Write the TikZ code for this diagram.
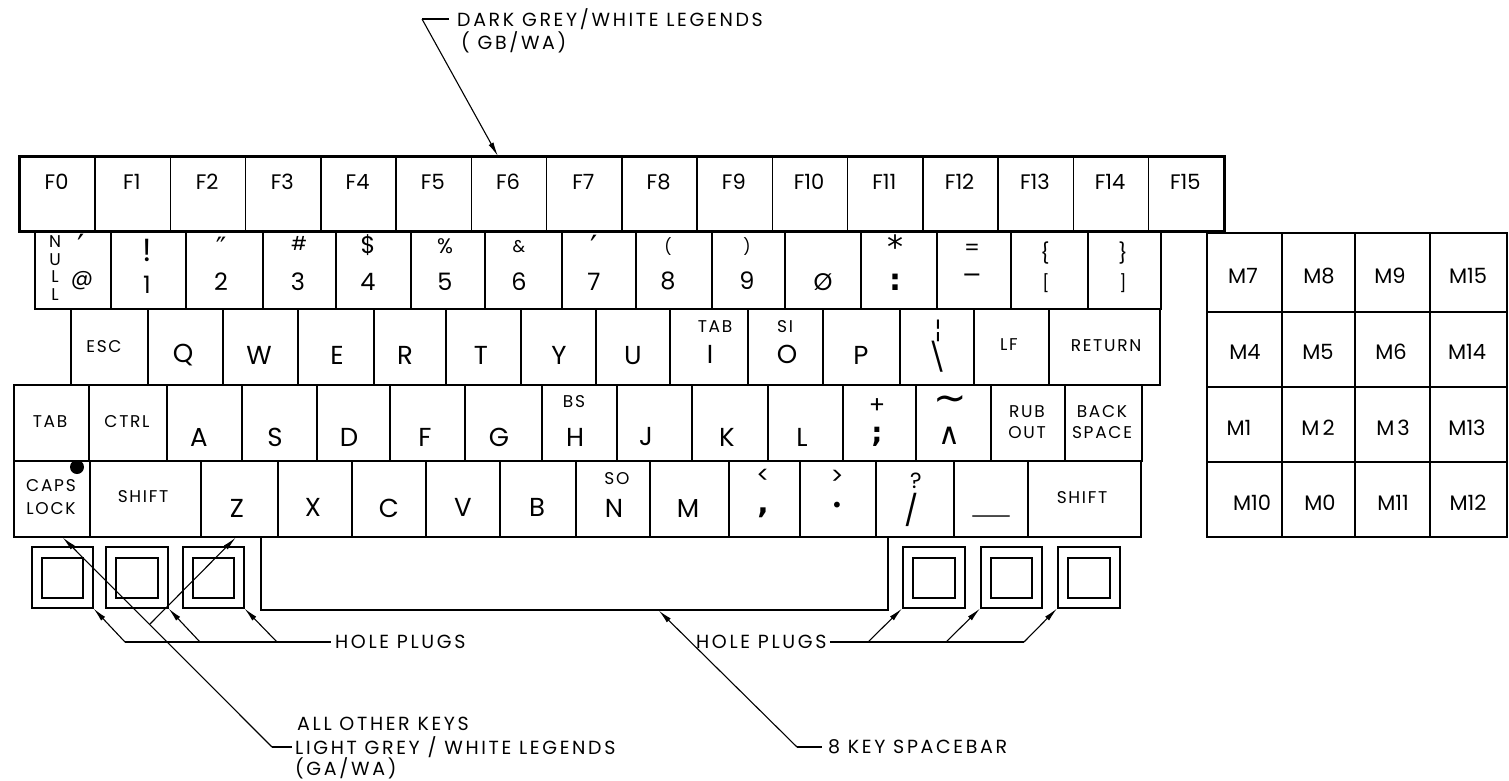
\documentclass[tikz,border=0pt]{standalone}
\usepackage{fontspec}
\setmainfont{Poppins}
\newfontfamily\kfnt{Poppins}
\newfontfamily\smfnt{Poppins}[LetterSpace=10]
\newfontfamily\capfnt{Poppins}[LetterSpace=14]
\newfontfamily\dvsym{DejaVu Sans}
\usetikzlibrary{arrows.meta}
\newcommand\fsz[1]{\fontsize{#1}{#1}\selectfont}
\newcommand\mkkey[5]{\node[keybox, minimum width={(#3-#2)*1pt}, minimum height={(#5-#4)*1pt}] (#1) at (#2,#4) {};}
\tikzset{
  keybox/.style={draw, line width=1.5pt, inner sep=0pt, anchor=north west},
  lt/.style={inner sep=0pt, font=\kfnt\fsz{26}},
  dg/.style={inner sep=0pt, font=\kfnt\fsz{24}},
  sm/.style={inner sep=0pt, font=\smfnt\fsz{17}},
  fk/.style={inner sep=0pt, font=\kfnt\fsz{21}},
  kp/.style={inner sep=0pt, font=\kfnt\fsz{21}},
  sy/.style={inner sep=0pt},
  captxt/.style={inner sep=0pt, anchor=west, font=\capfnt\fsz{19}},
  ldr/.style={line width=1.1pt},
  arr/.style={line width=1.1pt, -{Latex[length=14pt,width=5.5pt]}},
}
\begin{document}
\begin{tikzpicture}[x=1pt,y=-1pt]
\fill[white] (0,0) rectangle (1509,780);
\useasboundingbox (0,0) rectangle (1509,780);

% ---------- function row ----------
\foreach \i in {0,...,15}{
  \pgfmathsetmacro\xa{19+\i*75.25}
  \pgfmathsetmacro\xb{19+(\i+1)*75.25}
  \pgfmathsetmacro\xc{\xa+37.6}
  \mkkey{f\i}{\xa}{\xb}{156}{230}
  \node[fk] (fl\i) at (\xc,182) {F\i};
}
\draw[line width=2.4pt] (f0.north west) rectangle (f15.south east);

% ---------- number row ----------
\foreach \n/\a/\b in {0/34/110,1/110/185,2/185/262,3/262/335,4/335/410,5/410/484,6/484/561,7/561/635,8/635/711,9/711/784,10/784/860,11/860/936,12/936/1010,13/1010/1087,14/1087/1160}
  {\mkkey{n\n}{\a}{\b}{230}{308}}
\node[inner sep=0pt, align=center, font=\smfnt\fontsize{17}{17.5}\selectfont] (lnull) at (55,268) {N\\U\\L\\L};
\node[dg, font=\kfnt\fsz{22}] (lat) at (82,281) {@};
\node[sy, font=\dvsym\fsz{32}] (lgrave) at (81,246) {′};
\node[dg, font=\kfnt\fsz{32}] (lexc) at (147,250) {!};
\node[dg] (l1) at (147,285) {1};
\node[sy, font=\dvsym\fsz{28}] (lquo) at (221,247) {″};
\node[dg] (l2) at (221,282) {2};
\node[dg, font=\kfnt\fsz{19}] (lhash) at (299,243) {\#};
\node[dg] (l3) at (298,282) {3};
\node[dg] (ldol) at (368,245) {\$};
\node[dg, font=\kfnt\fsz{21}] (lpct) at (445,246) {\%};
\node[dg] (l4) at (368,282) {4};
\node[dg] (l5) at (445,282) {5};
\node[dg, font=\kfnt\fsz{17}] (lamp) at (519,247) {\&};
\node[dg] (l6) at (519,282) {6};
\node[sy, font=\dvsym\fsz{32}] (lapo) at (594,247) {′};
\node[dg] (l7) at (594,282) {7};
\node[dg, font=\kfnt\fsz{16}] (llp) at (668,247) {(};
\node[dg] (l8) at (668,281) {8};
\node[dg, font=\kfnt\fsz{16}] (lrp) at (747,247) {)};
\node[dg] (l9) at (747,281) {9};
\node[dg] (l0) at (823,282) {Ø};
\node[sy, font=\dvsym\fsz{32}] (last) at (895,247) {*};
\node[sy, font=\dvsym\bfseries\fsz{30}] (lcol) at (895,282) {:};
\node[dg, font=\kfnt\fsz{22}] (leq) at (972,250) {=};
\node[sy, font=\dvsym\fsz{24}] (lmin) at (972,278) {−};
\node[dg, font=\kfnt\fsz{20}] (llb) at (1045,253) {\{};
\node[dg, font=\kfnt\fsz{17}] (llk) at (1046,283) {[};
\node[dg, font=\kfnt\fsz{20}] (lrb) at (1123,253) {\}};
\node[dg, font=\kfnt\fsz{17}] (lrk) at (1123,283) {]};

% ---------- QWERTY row ----------
\foreach \n/\a/\b in {0/70/147,1/147/222,2/222/297,3/297/373,4/373/445,5/445/520,6/520/595,7/595/669,8/669/747,9/747/822,10/822/899,11/899/973,12/973/1048,13/1048/1159}
  {\mkkey{q\n}{\a}{\b}{308}{384}}
\node[sm] (lesc) at (104,347) {ESC};
\node[lt] (lq) at (183,355) {Q};
\node[lt] (lw) at (259,355) {W};
\node[lt] (le) at (337,355) {E};
\node[lt] (lr) at (405,355) {R};
\node[lt] (ltt) at (481,355) {T};
\node[lt] (ly) at (559,355) {Y};
\node[lt] (lu) at (633,356) {U};
\node[sm] (ltabi) at (715,327) {TAB};
\node[lt] (li) at (710,354) {I};
\node[sm] (lsi) at (785,327) {SI};
\node[lt] (lo) at (787,354) {O};
\node[lt] (lp) at (861,355) {P};
\node[sy, font=\dvsym\fsz{25}] (lbar) at (938,331) {¦};
\node[dg, font=\kfnt\fsz{28}] (lbsl) at (937,357) {\textbackslash};
\node[sm] (llf) at (1009,345) {LF};
\node[sm] (lret) at (1106,346) {RETURN};

% ---------- ASDF row ----------
\foreach \n/\a/\b in {0/13/88,1/88/166,2/166/241,3/241/316,4/316/389,5/389/464,6/464/541,7/541/616,8/616/691,9/691/767,10/767/842,11/842/915,12/915/990,13/990/1064,14/1064/1141}
  {\mkkey{a\n}{\a}{\b}{384}{460}}
\node[sm] (ltab) at (50,422) {TAB};
\node[sm] (lctrl) at (127,422) {CTRL};
\node[lt] (la) at (199,437) {A};
\node[lt] (ls) at (275,437) {S};
\node[lt] (ld) at (349,437) {D};
\node[lt] (lf) at (425,437) {F};
\node[lt] (lg) at (499,437) {G};
\node[sm] (lbs) at (574,402) {BS};
\node[lt] (lh) at (575,437) {H};
\node[lt] (lj) at (646,437) {J};
\node[lt] (lk) at (727,437) {K};
\node[lt] (ll) at (802,437) {L};
\node[dg] (lplus) at (877,406) {+};
\node[sy, font=\dvsym\bfseries\fsz{28}] (lsemi) at (877,437) {;};
\node[sy, font=\dvsym\fsz{40}] (ltil) at (950,404) {\char"007E};
\node[sy, font=\dvsym\fsz{30}] (lcar) at (949,436) {∧};
\node[inner sep=0pt, align=center, font=\smfnt\fontsize{17}{21}\selectfont] (lrub) at (1027,422) {RUB\\OUT};
\node[inner sep=0pt, align=center, font=\smfnt\fontsize{17}{21}\selectfont] (lback) at (1102,422) {BACK\\SPACE};

% ---------- bottom letter row ----------
\foreach \n/\a/\b in {0/13/89,1/89/200,2/200/277,3/277/351,4/351/425,5/425/499,6/499/575,7/575/649,8/649/728,9/728/799,10/799/875,11/875/953,12/953/1027,13/1027/1140}
  {\mkkey{c\n}{\a}{\b}{460}{536}}
\node[inner sep=0pt, align=center, font=\smfnt\fontsize{17}{23}\selectfont] (lcaps) at (51,497) {CAPS\\LOCK};
\node[circle, fill=black, inner sep=0pt, minimum size=14pt] (capsdot) at (77,467) {};
\node[sm] (lshl) at (143,497) {SHIFT};
\node[lt] (lz) at (237,508) {Z};
\node[lt] (lx) at (313,507) {X};
\node[lt] (lc) at (389,508) {C};
\node[lt] (lv) at (463,507) {V};
\node[lt] (lb) at (537,507) {B};
\node[sm] (lso) at (617,479) {SO};
\node[lt] (ln) at (614,508) {N};
\node[lt] (lm) at (688,508) {M};
\node[dg] (llt) at (763,476) {<};
\node[sy, font=\dvsym\bfseries\fsz{30}] (lcom) at (763,513) {,};
\node[dg] (lgt) at (837,477) {>};
\node[sy, font=\dvsym\fsz{20}] (ldot) at (837,507) {•};
\node[dg, font=\kfnt\fsz{22}] (lqm) at (916,481) {?};
\node[dg, font=\kfnt\fsz{30}] (lsl) at (912,510) {/};
\node[sy, font=\dvsym\fsz{20}] (lus) at (991,515) {\scalebox{3.6}[1]{\_}};
\node[sm] (lshr) at (1082,498) {SHIFT};

% ---------- spacebar and hole plugs ----------
\mkkey{sp}{260}{887}{536}{609}
\foreach \n/\a/\b in {1/31/92,2/105/167,3/182/243,4/902/964,5/980/1041,6/1057/1119}{
  \pgfmathsetmacro\ia{\a+10}
  \pgfmathsetmacro\ib{\b-10}
  \mkkey{p\n}{\a}{\b}{546}{607}
  \mkkey{pi\n}{\ia}{\ib}{557}{597}
}

% ---------- keypad ----------
\foreach \r/\ya/\yb in {0/232/311,1/311/386,2/386/461,3/461/536}
  \foreach \c/\xa/\xb in {0/1206/1281,1/1281/1354,2/1354/1429,3/1429/1506}
    {\mkkey{m\r\c}{\xa}{\xb}{\ya}{\yb}}
\node[kp] (lm7) at (1243,276) {M7};
\node[kp] (lm8) at (1319,276) {M8};
\node[kp] (lm9) at (1390,276) {M9};
\node[kp] (lm15) at (1468,276) {M15};
\node[kp] (lm4) at (1245,352) {M4};
\node[kp] (lm5) at (1318,352) {M5};
\node[kp] (lm6) at (1391,352) {M6};
\node[kp] (lm14) at (1467,352) {M14};
\node[kp] (lm1) at (1239,428) {M1};
\node[kp] (lm2) at (1318,428) {M\kern3pt 2};
\node[kp] (lm3) at (1393,428) {M\kern3pt 3};
\node[kp] (lm13) at (1467,428) {M13};
\node[kp] (lm10) at (1252,503) {M10};
\node[kp] (lm0) at (1320,503) {M0};
\node[kp] (lm11) at (1393,503) {M11};
\node[kp] (lm12) at (1468,503) {M12};

% ---------- captions ----------
\node[captxt] (dk) at (457,19) {DARK GREY/WHITE LEGENDS};
\node[captxt] (gb) at (461,42) {( GB/WA)};
\node[captxt] (hpl) at (335,642) {HOLE PLUGS};
\node[captxt] (hpr) at (696,642) {HOLE PLUGS};
\node[captxt] (aok) at (297,724) {ALL OTHER KEYS};
\node[captxt] (lgw) at (295,747) {LIGHT GREY / WHITE LEGENDS};
\node[captxt] (gaw) at (295,768) {(GA/WA)};
\node[captxt] (ksb) at (828,747) {8 KEY SPACEBAR};

% ---------- leaders ----------
\coordinate (tc) at (422,19);
\draw[ldr] (tc) -- ([xshift=-8pt]dk.west);
\draw[arr] (tc) -- ([xshift=-11pt]f6.north);

\coordinate (lb1) at (125,642);
\coordinate (lb2) at (200,642);
\coordinate (lb3) at (277,642);
\draw[ldr] (lb1) -- ([xshift=-4pt]hpl.west);
\draw[arr] (lb1) -- (p1.south east);
\draw[arr] (lb2) -- (p2.south east);
\draw[arr] (lb3) -- (p3.south east);

\coordinate (ck) at (272,747);
\coordinate (zb) at (150,624);
\draw[ldr] (ck) -- ([xshift=-3pt]lgw.west);
\draw[arr] (ck) -- ([xshift=11pt]c0.south);
\draw[arr] (zb) -- ([xshift=-3.5pt]c2.south);

\coordinate (sk) at (797,747);
\draw[ldr] (sk) -- ([xshift=-6pt]ksb.west);
\draw[arr] (sk) -- ([xshift=84.5pt]sp.south);

\coordinate (rb1) at (868,642);
\coordinate (rb2) at (946,642);
\coordinate (rb3) at (1024,642);
\draw[ldr] ([xshift=3pt]hpr.east) -- (rb3);
\draw[arr] (rb1) -- (p4.south west);
\draw[arr] (rb2) -- (p5.south west);
\draw[arr] (rb3) -- (p6.south west);
\end{tikzpicture}
\end{document}
